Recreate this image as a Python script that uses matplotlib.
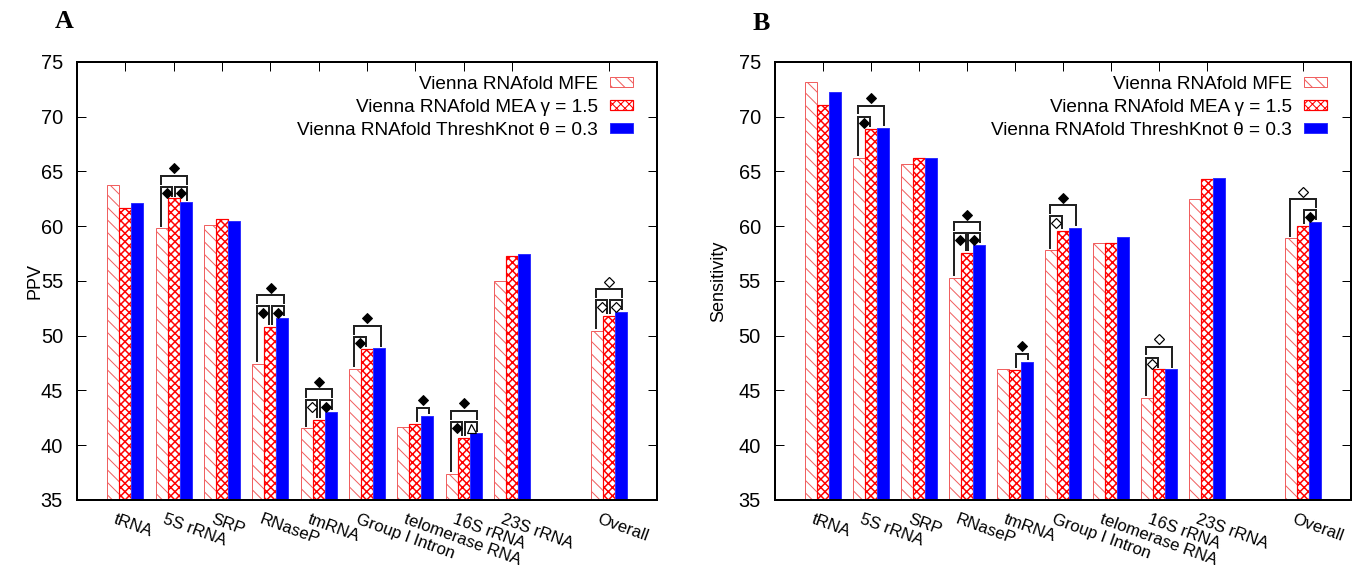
import numpy as np
import matplotlib
matplotlib.use('Agg')
import matplotlib.pyplot as plt
import matplotlib.transforms as mtransforms

plt.rcParams['font.family'] = ['Liberation Sans', 'DejaVu Sans']

# categories along the x axis (Overall sits after a gap)
categories = ['tRNA', '5S rRNA', 'SRP', 'RNaseP', 'tmRNA', 'Group I Intron',
              'telomerase RNA', '16S rRNA', '23S rRNA', 'Overall']

series_labels = ['Vienna RNAfold MFE',
                 'Vienna RNAfold MEA \u03b3 = 1.5',
                 'Vienna RNAfold ThreshKnot \u03b8 = 0.3']

# panel A: PPV
ppv_mfe = [63.77, 59.80, 60.10, 47.45, 41.55, 46.96, 41.70, 37.37, 55.00, 50.46]
ppv_mea = [61.70, 62.55, 60.63, 50.80, 42.30, 48.80, 41.94, 40.66, 57.25, 51.83]
ppv_thr = [62.15, 62.19, 60.50, 51.65, 43.06, 48.85, 42.67, 41.09, 57.50, 52.20]

# panel B: Sensitivity
sens_mfe = [73.17, 66.26, 65.65, 55.30, 47.00, 57.80, 58.50, 44.30, 62.50, 58.90]
sens_mea = [71.10, 68.88, 66.20, 57.60, 46.86, 59.57, 58.44, 46.94, 64.30, 60.02]
sens_thr = [72.26, 68.97, 66.26, 58.30, 47.60, 59.87, 58.99, 46.94, 64.40, 60.40]

# significance marks: (category index, bar i, bar j, symbol)
ppv_sig = [
    (1, 0, 1, 'fill'), (1, 1, 2, 'fill'), (1, 0, 2, 'fill'),
    (3, 0, 1, 'fill'), (3, 1, 2, 'fill'), (3, 0, 2, 'fill'),
    (4, 0, 1, 'open'), (4, 1, 2, 'fill'), (4, 0, 2, 'fill'),
    (5, 0, 1, 'fill'), (5, 0, 2, 'fill'),
    (6, 1, 2, 'fill'),
    (7, 0, 1, 'fill'), (7, 1, 2, 'tri'), (7, 0, 2, 'fill'),
    (9, 0, 1, 'open'), (9, 1, 2, 'open'), (9, 0, 2, 'open'),
]
sens_sig = [
    (1, 0, 1, 'fill'), (1, 0, 2, 'fill'),
    (3, 0, 1, 'fill'), (3, 1, 2, 'fill'), (3, 0, 2, 'fill'),
    (4, 1, 2, 'fill'),
    (5, 0, 1, 'open'), (5, 0, 2, 'fill'),
    (7, 0, 1, 'open'), (7, 0, 2, 'open'),
    (9, 1, 2, 'fill'), (9, 0, 2, 'open'),
]

DPI = 75
W, H = 1353, 566
PT = 72.0 / DPI  # points per pixel


def px(v):
    return v * PT


bw = 0.25
x = np.array(list(range(len(categories) - 1)) + [len(categories)], dtype=float)

styles = [
    dict(facecolor='white', edgecolor='#f06060', hatch='\\\\', linewidth=px(1)),
    dict(facecolor='white', edgecolor='#ff0000', hatch='xxx', linewidth=px(1.2)),
    dict(facecolor='#0000ff', edgecolor='#3030ff', linewidth=px(1)),
]
hatch_lw = [px(1.0), px(1.5), None]

sym_style = {
    'fill': dict(marker='D', ms=px(6.5), mfc='black', mec='black', mew=px(1)),
    'open': dict(marker='D', ms=px(6.5), mfc='white', mec='black', mew=px(1.2)),
    'tri': dict(marker='^', ms=px(9), mfc='white', mec='black', mew=px(1.2)),
}


def draw_brackets(ax, series, sigs):
    groups = {}
    for g, i, j, sym in sigs:
        groups.setdefault(g, []).append((i, j, sym))
    for g, items in groups.items():
        vals = [s[g] for s in series]
        centers = [x[g] + (k - 1) * bw for k in range(3)]
        has_big = any((i, j) == (0, 2) for i, j, _ in items)
        small_pairs = [(i, j) for i, j, _ in items if (i, j) != (0, 2)]
        small_y = max(vals) + (1.05 if has_big else 0.75)
        big_y = small_y + 1.0
        for i, j, sym in items:
            xl = centers[i] + (-0.02 if i == 0 else 0.025)
            xr = centers[j] + (0.03 if j == 2 else -0.025)
            if (i, j) == (0, 2):
                y = big_y
                yl = small_y + 0.3 if any(p[0] == 0 for p in small_pairs) else vals[0] + 0.25
                yr = small_y + 0.3 if any(p[1] == 2 for p in small_pairs) else vals[2] + 0.25
                ys = y + 0.7
            else:
                y = small_y
                yl = vals[i] + 0.25
                yr = vals[j] + 0.25
                ys = y - 0.6 if has_big else y + 0.7
            ax.plot([xl, xl, xr, xr], [yl, y, y, yr], color='#222222',
                    lw=px(2), solid_joinstyle='miter', zorder=4)
            ax.plot([(xl + xr) / 2], [ys], ls='none', zorder=5, **sym_style[sym])


fig = plt.figure(figsize=(W / DPI, H / DPI), dpi=DPI)


def make_panel(rect, series, sigs, ylabel, ylab_x, letter, letter_xy):
    ax = fig.add_axes(rect)
    bars = []
    for k, vals in enumerate(series):
        b = ax.bar(x + (k - 1) * bw, vals, bw, zorder=2, **styles[k])
        if hatch_lw[k] is not None:
            for p in b:
                if hasattr(p, 'set_hatch_linewidth'):
                    p.set_hatch_linewidth(hatch_lw[k])
        bars.append(b)

    draw_brackets(ax, series, sigs)

    ax.set_xlim(-1, 11)
    ax.set_ylim(35, 75)
    ax.set_yticks(np.arange(35, 76, 5))
    ax.set_xticks(x)
    ax.set_xticklabels([])
    ax.tick_params(axis='both', direction='in', length=px(9), width=px(1),
                   top=True, right=True, labelsize=px(20), pad=px(14))
    for sp in ax.spines.values():
        sp.set_linewidth(px(2))

    off = mtransforms.ScaledTranslation(-8 / DPI, -12 / DPI, fig.dpi_scale_trans)
    trans = ax.get_xaxis_transform() + off
    for xi, lab in zip(x, categories):
        ax.text(xi, 0, lab, transform=trans, rotation=-20, rotation_mode='anchor',
                ha='left', va='top', fontsize=px(16.8))

    fs = 19
    leg = ax.legend([b[0] for b in bars], series_labels, loc='upper right',
                    bbox_to_anchor=(0.9586, 0.968), frameon=False, markerfirst=False,
                    fontsize=px(fs), handlelength=23 / fs, handleheight=8 / fs,
                    handletextpad=12 / fs, labelspacing=0.32, borderpad=0,
                    borderaxespad=0)
    for t in leg.get_texts():
        t.set_ha('right')

    fig.text(ylab_x / W, 1 - 281 / H, ylabel, rotation=90, ha='center', va='center',
             fontsize=px(18))
    fig.text(letter_xy[0] / W, 1 - letter_xy[1] / H, letter, ha='center', va='center',
             fontsize=px(26), fontweight='bold', family='Liberation Serif')
    return ax


top_px, bot_px = 62, 500
make_panel([77 / W, 1 - bot_px / H, 580 / W, (bot_px - top_px) / H],
           [ppv_mfe, ppv_mea, ppv_thr], ppv_sig, 'PPV', 35, 'A', (64, 22))
make_panel([775 / W, 1 - bot_px / H, 576 / W, (bot_px - top_px) / H],
           [sens_mfe, sens_mea, sens_thr], sens_sig, 'Sensitivity', 719, 'B', (761, 23))

fig.savefig('out.png', dpi=DPI)
